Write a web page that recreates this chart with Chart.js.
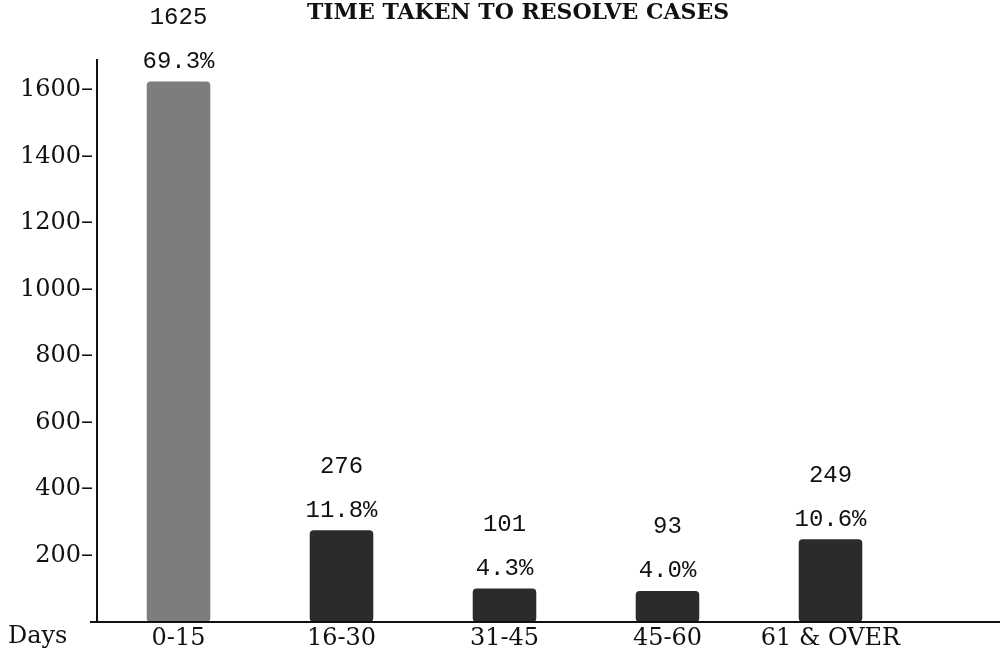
<!DOCTYPE html>
<html>
<head>
<meta charset="utf-8">
<script src="https://cdn.jsdelivr.net/npm/chart.js@4"></script>
<style>
  html, body { margin: 0; padding: 0; background: #fff; }
  #wrap { width: 1000px; height: 651px; }
</style>
</head>
<body>
<div id="wrap"><canvas id="casesChart"></canvas></div>
<script>
/* global Chart */

var title = "TIME TAKEN TO RESOLVE CASES";
var categories = ["0-15", "16-30", "31-45", "45-60", "61 & OVER"];
var cases = [1625, 276, 101, 93, 249];
var percents = ["69.3%", "11.8%", "4.3%", "4.0%", "10.6%"];
var yTicks = [200, 400, 600, 800, 1000, 1200, 1400, 1600];

var barColors = ["#7d7d7d", "#2b2b2b", "#2b2b2b", "#2b2b2b", "#2b2b2b"];

// title, labels above bars, "Days" caption and the long baseline
var annotate = {
    id: "annotate",
    afterDatasetsDraw: function(chart) {
        var ctx = chart.ctx;
        var meta = chart.getDatasetMeta(0);
        ctx.save();
        ctx.fillStyle = "#111";
        ctx.textAlign = "center";
        ctx.textBaseline = "middle";

        ctx.font = "bold 22px 'DejaVu Serif'";
        ctx.fillText(title, 518, 13);

        ctx.font = "24px 'Liberation Mono'";
        meta.data.forEach(function(bar, i) {
            ctx.fillText(percents[i], bar.x, bar.y - 20);
            ctx.fillText(String(cases[i]), bar.x, bar.y - 64);
        });

        var y0 = chart.scales.y.getPixelForValue(0);
        ctx.strokeStyle = "#111";
        ctx.lineWidth = 2;
        ctx.beginPath();
        ctx.moveTo(chart.chartArea.left - 7, y0);
        ctx.lineTo(chart.width, y0);
        ctx.stroke();

        ctx.font = "24px 'DejaVu Serif'";
        ctx.textAlign = "left";
        ctx.fillText("Days", 8, y0 + 15);
        ctx.restore();
    }
};

var casesCanvas = document.getElementById("casesChart");

var casesChart = new Chart(casesCanvas, {
    type: "bar",
    data: {
        labels: categories,
        datasets: [{
            label: "Cases",
            data: cases,
            backgroundColor: barColors,
            borderRadius: 4,
            borderSkipped: false,
            barPercentage: 0.78,
            categoryPercentage: 0.5
        }]
    },
    options: {
        responsive: true,
        maintainAspectRatio: false,
        animation: false,
        layout: { padding: { top: 60, right: 88, bottom: 0 } },
        plugins: {
            legend: { display: false },
            tooltip: { enabled: false },
            title: { display: false }
        },
        scales: {
            x: {
                grid: { display: false, drawTicks: false },
                border: { display: false },
                afterFit: function(scale) { scale.height = 29; },
                ticks: {
                    color: "#111",
                    padding: 2,
                    font: { family: "'DejaVu Serif'", size: 24 }
                }
            },
            y: {
                min: 0,
                max: 1690,
                grid: { display: false, drawTicks: false },
                border: { display: true, color: "#111", width: 2 },
                afterBuildTicks: function(scale) {
                    scale.ticks = yTicks.map(function(v) { return { value: v }; });
                },
                afterFit: function(scale) { scale.width = 97; },
                ticks: {
                    color: "#111",
                    padding: 4,
                    font: { family: "'DejaVu Serif'", size: 24 },
                    callback: function(value) { return value + "–"; }
                }
            }
        }
    },
    plugins: [annotate]
});
</script>
</body>
</html>
